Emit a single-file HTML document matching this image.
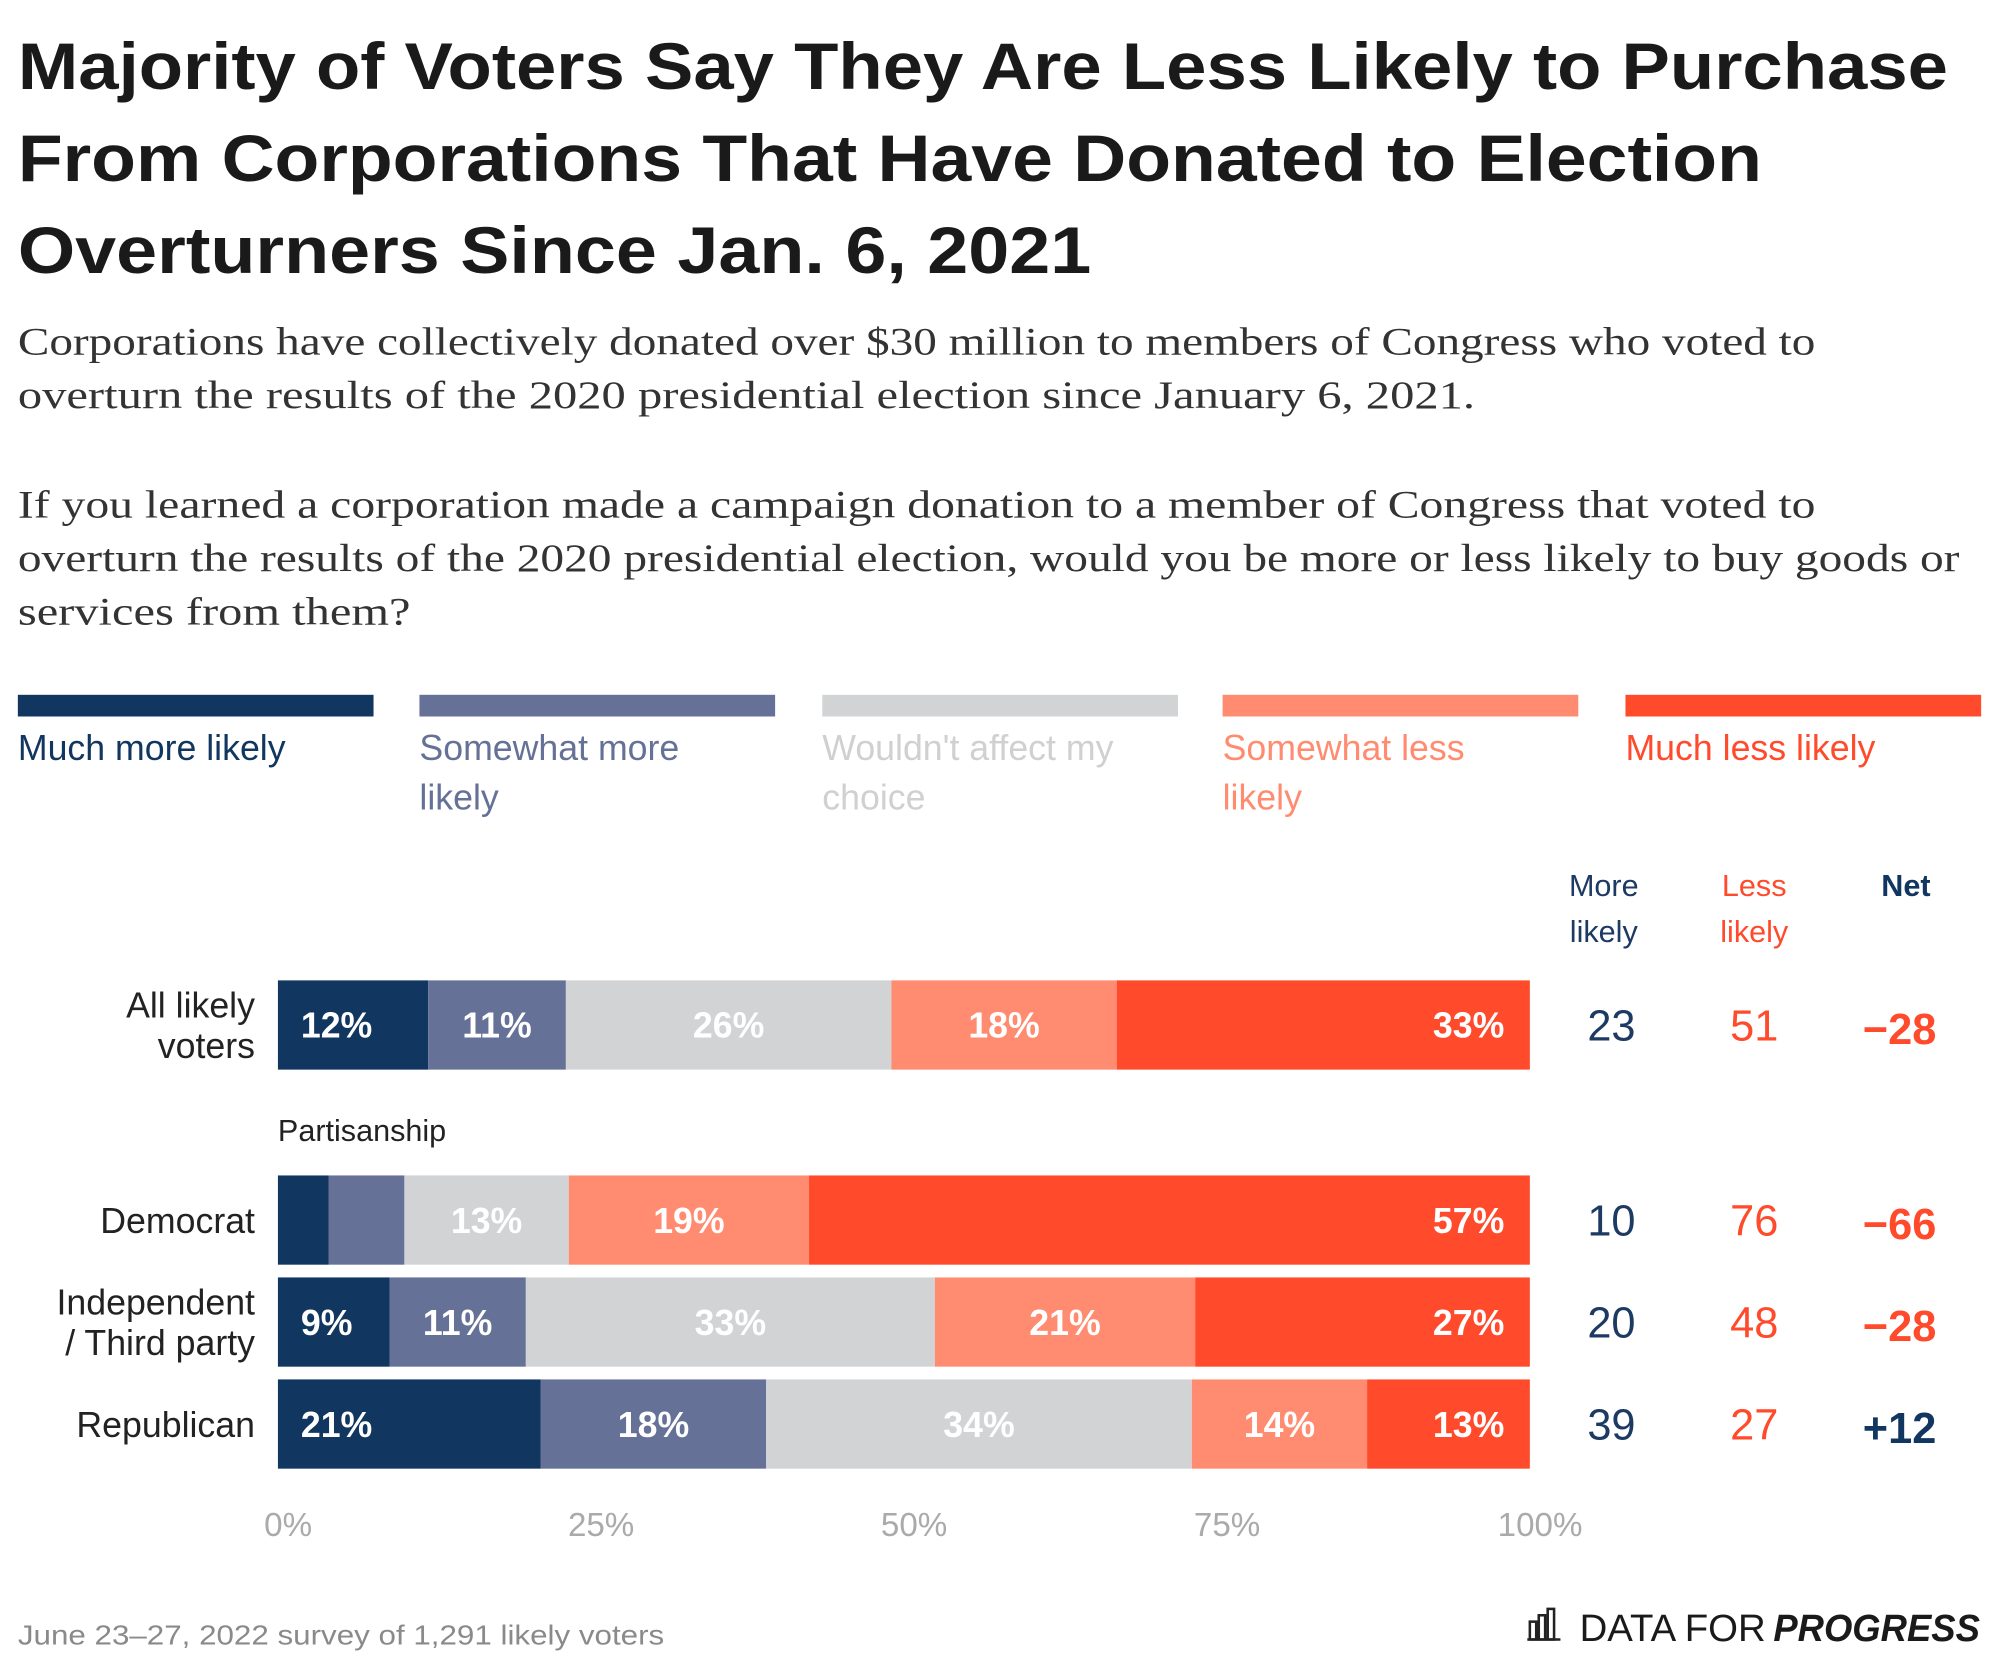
<!DOCTYPE html>
<html><head><meta charset="utf-8"><style>
html,body{margin:0;padding:0;background:#fff;}
svg{display:block;}
text{font-family:"Liberation Sans",sans-serif;}
.serif{font-family:"Liberation Serif",serif;}
</style></head><body>
<svg id="chart" width="1999" height="1665" viewBox="0 0 1568 1306" xmlns="http://www.w3.org/2000/svg">
<rect width="1568" height="1306" fill="#fff"/>
<g font-weight="bold" font-size="52" fill="#1a1a1a">
<text x="14" y="70" textLength="1514" lengthAdjust="spacingAndGlyphs">Majority of Voters Say They Are Less Likely to Purchase</text>
<text x="14" y="142" textLength="1368" lengthAdjust="spacingAndGlyphs">From Corporations That Have Donated to Election</text>
<text x="14" y="214" textLength="842" lengthAdjust="spacingAndGlyphs">Overturners Since Jan. 6, 2021</text>
</g>
<g class="serif" font-size="31" fill="#333">
<text class="serif" x="14" y="278" textLength="1410" lengthAdjust="spacingAndGlyphs">Corporations have collectively donated over $30 million to members of Congress who voted to</text>
<text class="serif" x="14" y="320" textLength="1143" lengthAdjust="spacingAndGlyphs">overturn the results of the 2020 presidential election since January 6, 2021.</text>
<text class="serif" x="14" y="406" textLength="1410" lengthAdjust="spacingAndGlyphs">If you learned a corporation made a campaign donation to a member of Congress that voted to</text>
<text class="serif" x="14" y="448" textLength="1523" lengthAdjust="spacingAndGlyphs">overturn the results of the 2020 presidential election, would you be more or less likely to buy goods or</text>
<text class="serif" x="14" y="490" textLength="308" lengthAdjust="spacingAndGlyphs">services from them?</text>
</g>
<g id="legend"></g>
<g font-size="24" text-anchor="middle">
<text x="1258" y="703" fill="#1d3a63">More</text><text x="1258" y="739" fill="#1d3a63">likely</text>
<text x="1376" y="703" fill="#ff4a2b">Less</text><text x="1376" y="739" fill="#ff4a2b">likely</text>
<text x="1495" y="703" fill="#11365f" font-weight="bold">Net</text>
</g>
<text x="218" y="895" font-size="24" fill="#222">Partisanship</text>
<g id="bars"></g>
<g id="axis"></g>
<text x="14" y="1290" font-size="22" fill="#8a8a8a" textLength="507" lengthAdjust="spacingAndGlyphs">June 23–27, 2022 survey of 1,291 likely voters</text>
<g>
<g fill="none" stroke="#222" stroke-width="2"><rect x="1200" y="1272" width="5" height="14"/><rect x="1207" y="1267" width="5" height="19"/><rect x="1214" y="1262" width="5" height="24"/><line x1="1198" y1="1286" x2="1224" y2="1286"/></g>
<text x="1239" y="1287" font-size="30" fill="#1a1a1a" textLength="146" lengthAdjust="spacingAndGlyphs">DATA FOR</text>
<text x="1391" y="1287" font-size="30" fill="#1a1a1a" font-weight="bold" font-style="italic" textLength="162" lengthAdjust="spacingAndGlyphs">PROGRESS</text>
</g>
</svg>
<script>
const categories = ["All likely voters","Democrat","Independent / Third party","Republican"];
const seriesNames = ["Much more likely","Somewhat more likely","Wouldn't affect my choice","Somewhat less likely","Much less likely"];
const muchMore = [12,4,9,21];
const someMore = [11,6,11,18];
const neutral = [26,13,33,34];
const someLess = [18,19,21,14];
const muchLess = [33,57,27,13];
const moreLikely = [23,10,20,39];
const lessLikely = [51,76,48,27];
const netValues = ["−28","−66","−28","+12"];
const ticks = [0,25,50,75,100];
const tickLabels = ["0%","25%","50%","75%","100%"];

const NS="http://www.w3.org/2000/svg";
const colors=["#11365f","#657196","#d2d3d5","#ff8c70","#ff4a2b"];
const labelColors=["#11365f","#657196","#d0d0d0","#ff8c70","#ff4a2b"];
const X0=218,X1=1200;
const xs=v=>X0+(X1-X0)*v/100;
const rowY=[769,922,1002,1082], H=70;
function mk(tag,attrs,parent,txt){const e=document.createElementNS(NS,tag);for(const k in attrs)e.setAttribute(k,attrs[k]);if(txt!==undefined)e.textContent=txt;parent.appendChild(e);return e;}

// legend
const lg=document.getElementById('legend');
const lx=[14,329,645,959,1275];
const lLines=[["Much more likely"],["Somewhat more","likely"],["Wouldn't affect my","choice"],["Somewhat less","likely"],["Much less likely"]];
seriesNames.forEach((n,i)=>{
  const r=mk('rect',{x:lx[i],y:545,width:279,height:17,fill:colors[i]},lg);
  
  
  lLines[i].forEach((t,j)=>{
    const e=mk('text',{x:lx[i],y:596+j*39,'font-size':28,fill:labelColors[i]},lg,t);
    
    
  });
});

// bars
const bg=document.getElementById('bars');
const series=[muchMore,someMore,neutral,someLess,muchLess];
categories.forEach((c,r)=>{
  const y=rowY[r];
  const total=series.reduce((s,a)=>s+a[r],0);
  let acc=0;
  series.forEach((s,i)=>{
    const v=s[r];
    const xa=xs(acc/total*100), xb=xs((acc+v)/total*100);
    const rect=mk('rect',{x:xa,y:y,width:xb-xa,height:H,fill:colors[i]},bg);
    
    
    if(v>=9){
      let tx,anchor;
      if(i===0){tx=xa+18;anchor='start';}
      else if(i===4){tx=xb-20;anchor='end';}
      else {tx=(xa+xb)/2;anchor='middle';}
      const t=mk('text',{x:tx,y:y+H/2+10,'font-size':28,'font-weight':'bold',fill:'#fff','text-anchor':anchor},bg,v+'%');
      
      
    }
    acc+=v;
  });
  const lines=c==="All likely voters"?["All likely","voters"]:c==="Independent / Third party"?["Independent","/ Third party"]:[c];
  lines.forEach((ln,j)=>{
    const yy=lines.length===1?y+H/2+10:y+H/2-6+j*32;
    const t=mk('text',{x:200,y:yy,'font-size':28,fill:'#222','text-anchor':'end'},bg,ln);
    
    
  });
  const m=mk('text',{x:1264,y:y+H/2+12,'font-size':34,fill:'#1d3a63','text-anchor':'middle'},bg,String(moreLikely[r]));
  
  
  const l=mk('text',{x:1376,y:y+H/2+12,'font-size':34,fill:'#ff4a2b','text-anchor':'middle'},bg,String(lessLikely[r]));
  
  
  const n=mk('text',{x:1490,y:y+H/2+15,'font-size':34,'font-weight':'bold',fill:netValues[r][0]==='+'?'#11365f':'#ff4a2b','text-anchor':'middle'},bg,netValues[r]);
  
  
});

// axis
const ax=document.getElementById('axis');
ticks.forEach((v,i)=>{
  const t=mk('text',{x:xs(v)+8,y:1205,'font-size':26,fill:'#aaa','text-anchor':'middle'},ax,tickLabels[i]);
  
  
});
</script>
</body></html>
